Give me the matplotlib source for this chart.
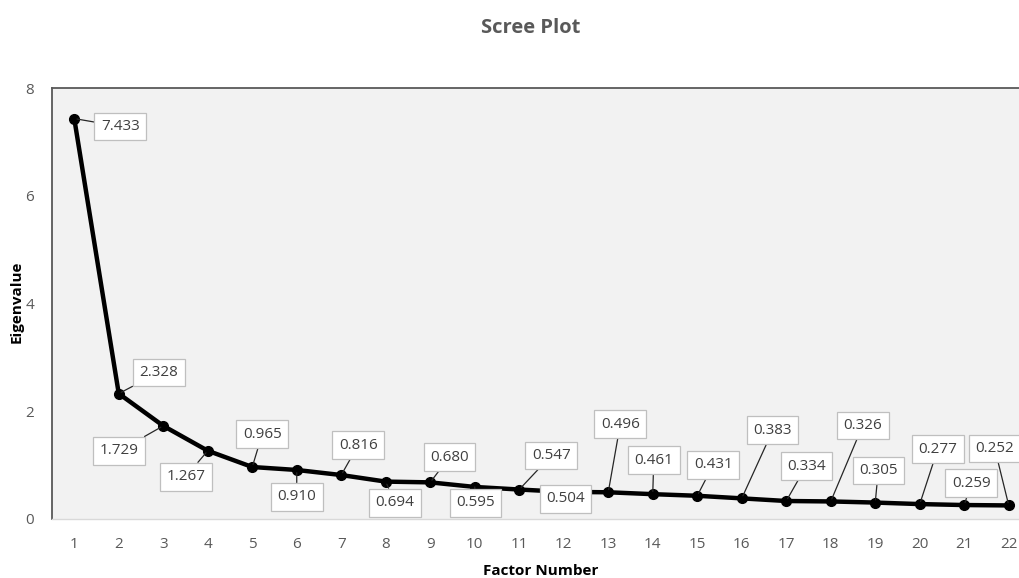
import matplotlib
matplotlib.use("Agg")
import matplotlib.pyplot as plt

factors = list(range(1, 23))
eigenvalues = [7.433, 2.328, 1.729, 1.267, 0.965, 0.910, 0.816, 0.694, 0.680, 0.595,
               0.547, 0.504, 0.496, 0.461, 0.431, 0.383, 0.334, 0.326, 0.305, 0.277,
               0.259, 0.252]
value_labels = ["7.433", "2.328", "1.729", "1.267", "0.965", "0.910", "0.816", "0.694",
                "0.680", "0.595", "0.547", "0.504", "0.496", "0.461", "0.431", "0.383",
                "0.334", "0.326", "0.305", "0.277", "0.259", "0.252"]
y_ticks = [0, 2, 4, 6, 8]

# label offsets in pixels (layout only)
label_offsets = [(46, -8), (40, 21), (-44, -25), (-22, -26), (10, 33), (0, -27),
                 (17, 30), (9, -21), (19, 25), (1, -16), (32, 34), (2, -7),
                 (12, 68), (1, 34), (16, 31), (31, 68), (20, 35), (32, 76),
                 (3, 32), (18, 55), (7, 22), (-14, 57)]

plt.rcParams['font.family'] = ['Open Sans', 'DejaVu Sans']

fig = plt.figure(figsize=(10.19, 5.78), dpi=100)
ax = fig.add_axes([52 / 1019, 59 / 578, (1031 - 52) / 1019, (519 - 88) / 578])
ax.set_facecolor('#f2f2f2')

ax.plot(factors, eigenvalues, color='black', lw=3.2, marker='o', markersize=7,
        solid_capstyle='round', solid_joinstyle='round', zorder=3, clip_on=False)

for x, y, lab, (dx, dy) in zip(factors, eigenvalues, value_labels, label_offsets):
    ax.annotate(lab, xy=(x, y), xytext=(dx, dy), textcoords='offset pixels',
                ha='center', va='center', fontsize=11, color='#404040',
                bbox=dict(boxstyle='square,pad=0.42', fc='white', ec='#bfbfbf', lw=0.9),
                arrowprops=dict(arrowstyle='-', color='#262626', lw=0.9,
                                shrinkA=0, shrinkB=2),
                zorder=5, annotation_clip=False)

ax.set_xlim(0.5, 22.5)
ax.set_ylim(0, 8)
ax.set_xticks(factors)
ax.set_yticks(y_ticks)
ax.tick_params(axis='both', length=0, labelsize=11, labelcolor='#595959')
ax.tick_params(axis='x', pad=13)
ax.tick_params(axis='y', pad=13)

ax.spines['left'].set_color('#595959')
ax.spines['left'].set_linewidth(1.3)
ax.spines['top'].set_color('#595959')
ax.spines['top'].set_linewidth(1.3)
ax.spines['bottom'].set_color('#d9d9d9')
ax.spines['bottom'].set_linewidth(1.0)
ax.spines['right'].set_visible(False)

fig.text(531 / 1019, 1 - 28 / 578, 'Scree Plot', ha='center', va='center',
         fontsize=14.5, fontweight='bold', color='#595959')
fig.text(541 / 1019, 1 - 571 / 578, 'Factor Number', ha='center', va='center',
         fontsize=11, fontweight='bold', color='black')
fig.text(17 / 1019, 1 - 302 / 578, 'Eigenvalue', ha='center', va='center',
         rotation=90, fontsize=11, fontweight='bold', color='black')

fig.savefig('out.png', dpi=100)
